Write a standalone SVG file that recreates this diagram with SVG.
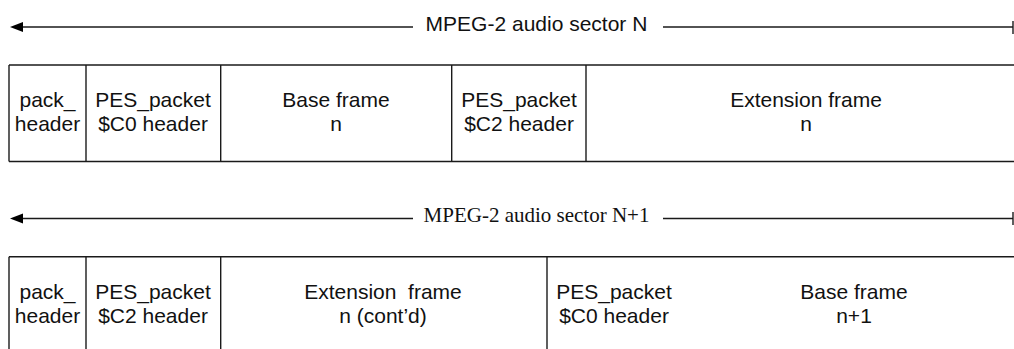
<svg xmlns="http://www.w3.org/2000/svg" width="1014" height="349" viewBox="0 0 1014 349">
<style>
.ln{stroke:#1a1a1a;stroke-width:1.4;fill:none}
.ah{fill:#000}
.t{font-family:"Liberation Sans",Arial,sans-serif;font-size:21px;fill:#111;text-anchor:middle}
.ts{font-family:"Liberation Serif","Times New Roman",serif;font-size:21px;fill:#111;text-anchor:middle}
</style>
<g id="connectors">
<line class="ln" x1="20" y1="27" x2="413" y2="27"/>
<polygon class="ah" points="10,27 23,22 23,32"/>
<line class="ln" x1="663" y1="27" x2="1013" y2="27"/>
<line class="ln" x1="1013" y1="21" x2="1013" y2="34"/>
<line class="ln" x1="20" y1="218.5" x2="413" y2="218.5"/>
<polygon class="ah" points="10,218.5 23,213.5 23,223.5"/>
<line class="ln" x1="663" y1="218.5" x2="1013" y2="218.5"/>
<line class="ln" x1="1013" y1="212" x2="1013" y2="225"/>
</g>
<g id="label-sector-N"><text class="t" x="536.5" y="31">MPEG-2 audio sector N</text></g>
<g id="label-sector-N1"><text class="ts" x="536.5" y="222">MPEG-2 audio sector N+1</text></g>
<g id="sector-N">
<line class="ln" x1="9" y1="65" x2="1014" y2="65"/>
<line class="ln" x1="9" y1="161.5" x2="1014" y2="161.5"/>
<line class="ln" x1="9" y1="65" x2="9" y2="161.5"/>
<line class="ln" x1="86" y1="65" x2="86" y2="161.5"/>
<line class="ln" x1="220.7" y1="65" x2="220.7" y2="161.5"/>
<line class="ln" x1="451.7" y1="65" x2="451.7" y2="161.5"/>
<line class="ln" x1="586" y1="65" x2="586" y2="161.5"/>
</g>
<g id="n-pack-header"><text class="t" x="47.5" y="107">pack_</text><text class="t" x="47.5" y="131">header</text></g>
<g id="n-pes-c0"><text class="t" x="153" y="107">PES_packet</text><text class="t" x="153" y="131">$C0 header</text></g>
<g id="n-base-n"><text class="t" x="336" y="107">Base frame</text><text class="t" x="336" y="131">n</text></g>
<g id="n-pes-c2"><text class="t" x="519" y="107">PES_packet</text><text class="t" x="519" y="131">$C2 header</text></g>
<g id="n-ext-n"><text class="t" x="806" y="107">Extension frame</text><text class="t" x="806" y="131">n</text></g>
<g id="sector-N1">
<line class="ln" x1="9" y1="256.7" x2="1014" y2="256.7"/>
<line class="ln" x1="9" y1="256.7" x2="9" y2="349"/>
<line class="ln" x1="86" y1="256.7" x2="86" y2="349"/>
<line class="ln" x1="220.7" y1="256.7" x2="220.7" y2="349"/>
<line class="ln" x1="547" y1="256.7" x2="547" y2="349"/>
</g>
<g id="n1-pack-header"><text class="t" x="47.5" y="298.7">pack_</text><text class="t" x="47.5" y="322.7">header</text></g>
<g id="n1-pes-c2"><text class="t" x="153" y="298.7">PES_packet</text><text class="t" x="153" y="322.7">$C2 header</text></g>
<g id="n1-ext-cont"><text class="t" x="383" y="298.7" xml:space="preserve">Extension  frame</text><text class="t" x="383" y="322.7">n (cont’d)</text></g>
<g id="n1-pes-c0"><text class="t" x="614" y="298.7">PES_packet</text><text class="t" x="614" y="322.7">$C0 header</text></g>
<g id="n1-base-n1"><text class="t" x="854" y="298.7">Base frame</text><text class="t" x="854" y="322.7">n+1</text></g>
</svg>
